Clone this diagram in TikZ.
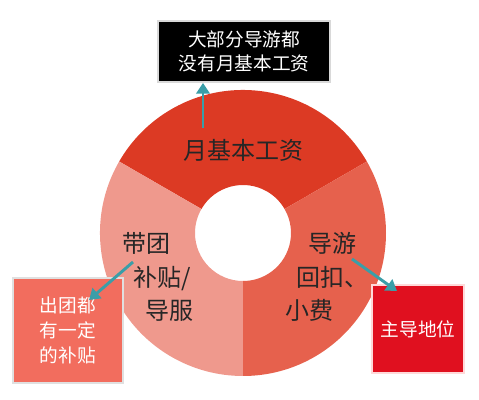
\documentclass[tikz,border=0pt]{standalone}
\usepackage{fontspec}
\setmainfont{Noto Sans CJK SC}
\usetikzlibrary{arrows.meta, positioning}
\definecolor{wagered}{HTML}{DC3A24}
\definecolor{subsidypink}{HTML}{EF998D}
\definecolor{rebatered}{HTML}{E6614D}
\definecolor{noteorange}{HTML}{F26D5E}
\definecolor{mainred}{HTML}{E0101F}
\definecolor{arrowteal}{HTML}{3A9EA8}

\begin{document}
\begin{tikzpicture}[x=0.75pt, y=0.75pt,
  ringtext/.style={font=\fontsize{18}{25}\selectfont, text=black!85},
  notetext/.style={font=\fontsize{14}{18}\selectfont, text=white, align=center},
  pointer/.style={draw=arrowteal, line width=2.2pt, -{Triangle[width=10pt, length=8pt]}}]
\useasboundingbox (0,0) rectangle (479,400);

% ring split into three parts
\begin{scope}[shift={(243,167)}]
\foreach \a/\b/\c in {30/150/wagered, 150/270/subsidypink, 270/390/rebatered}
  \fill[\c] (\a:143) arc[start angle=\a, end angle=\b, radius=143] -- (\b:48) arc[start angle=\b, end angle=\a, radius=48] -- cycle;
\end{scope}

% labels in the ring
\node[ringtext] (wage) at (243,250) {月基本工资};
\node[ringtext, anchor=west, align=left] (subsidy) at (118,123) {带团\\\hspace{8pt}补贴/\\\hspace{17pt}导服};
\node[ringtext, anchor=west, align=left] (rebate) at (281,123) {\hspace{17pt}导游\\\hspace{8pt}回扣、\\小费};

% note boxes
\node[rectangle, minimum width=129pt, minimum height=45.75pt, fill=black, draw=black!15, line width=1.5pt, notetext] (nowage) at (244,348.5) {大部分导游都\\没有月基本工资};
\node[rectangle, minimum width=82.5pt, minimum height=78.75pt, fill=noteorange, draw=black!12, line width=1.5pt, notetext, font=\fontsize{14}{19}\selectfont] (allowance) at (68,69.5) {出团都\\有一定\\的补贴};
\node[rectangle, minimum width=69pt, minimum height=66pt, fill=mainred, draw=red!15, line width=1.5pt, notetext] (dominant) at (418,71) {主导地位};

% arrows
\coordinate (wagefrom) at (203,272);
\coordinate (subfrom) at (133,138);
\coordinate (subto) at (89,100);
\coordinate (rebfrom) at (352,141);
\coordinate (rebto) at (397,109);
\draw[pointer] (wagefrom) -- (wagefrom |- nowage.south);
\draw[pointer] (subfrom) -- (subto);
\draw[pointer] (rebfrom) -- (rebto);
\end{tikzpicture}
\end{document}
